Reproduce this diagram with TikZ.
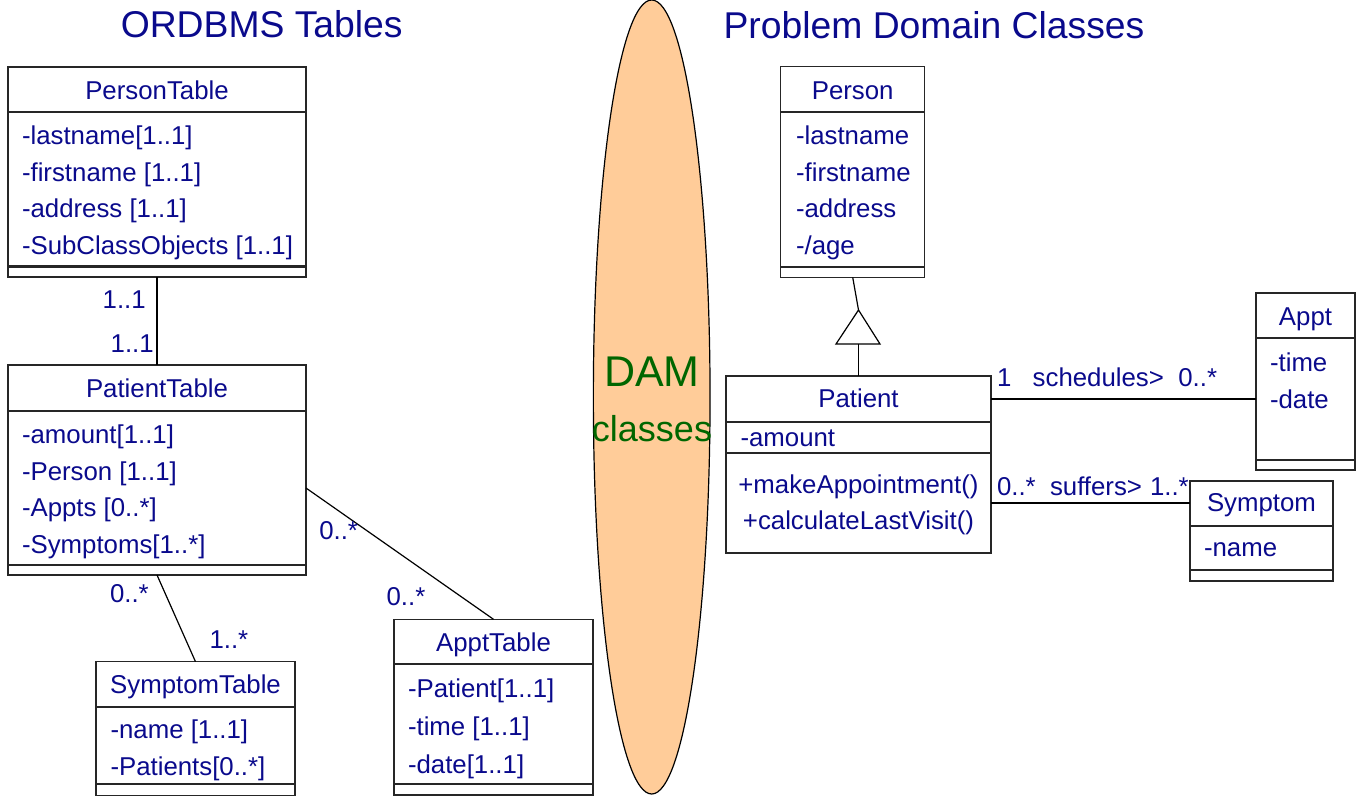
\documentclass[tikz,border=0pt]{standalone}
\usepackage{fontspec}
\setmainfont{Liberation Sans}
\usetikzlibrary{shapes.geometric,calc}
\definecolor{txtc}{RGB}{10,10,140}
\definecolor{damfill}{RGB}{255,204,153}
\definecolor{damtxt}{RGB}{0,102,0}
\begin{document}
\begin{tikzpicture}[x=1pt,y=-1pt,
 box/.style={draw=black!85,line width=1.3pt,inner sep=0,outer sep=0,anchor=north west},
 hsep/.style={draw=black!85,line width=2.2pt},
 tsep/.style={draw=black!85,line width=1.3pt},
 txt/.style={text=txtc,font=\fontsize{25.8}{30}\selectfont,inner sep=0,outer sep=0},
 attr/.style={txt,anchor=base west},
 head/.style={txt,anchor=base},
 lbl/.style={txt,anchor=base west},
 title/.style={text=txtc,font=\fontsize{37.3}{42}\selectfont,inner sep=0,anchor=base},
 conn/.style={draw=black,line width=1.2pt},
 ]
\useasboundingbox (0,0) rectangle (1365,796);

% titles
\node[title] (t1) at (261.7,37.3) {ORDBMS Tables};
\node[title] (t2) at (934,38) {Problem Domain Classes};

% DAM ellipse
\node[ellipse,draw=black,line width=1.2pt,fill=damfill,minimum width=116.7pt,minimum height=794pt,inner sep=0] (dam) at (651.7,397) {};
\node[text=damtxt,font=\fontsize{43}{48}\selectfont,inner sep=0,anchor=base] (damt) at (652,386) {DAM};
\node[text=damtxt,font=\fontsize{36}{42}\selectfont,inner sep=0,anchor=base] (damc) at (652,441) {classes};

% PersonTable
\node[box,minimum width=298pt,minimum height=210pt] (ptab) at (8,67) {};
\draw[hsep] (8,112) -- (306,112);
\draw[hsep] (8,266.5) -- (306,266.5);
\node[head] (ptabh) at (157,99) {PersonTable};
\node[attr] (ptab1) at (22,144.5) {-lastname[1..1]};
\node[attr] (ptab2) at (22,181) {-firstname [1..1]};
\node[attr] (ptab3) at (22,217.5) {-address [1..1]};
\node[attr] (ptab4) at (22,254) {-SubClassObjects [1..1]};

% PatientTable
\node[box,minimum width=298pt,minimum height=210pt] (patt) at (8,365) {};
\draw[hsep] (8,411) -- (306,411);
\draw[hsep] (8,565) -- (306,565);
\node[head] (patth) at (157,397) {PatientTable};
\node[attr] (patt1) at (22,443.5) {-amount[1..1]};
\node[attr] (patt2) at (22,480) {-Person [1..1]};
\node[attr] (patt3) at (22,516.5) {-Appts [0..*]};
\node[attr] (patt4) at (22,553) {-Symptoms[1..*]};

% SymptomTable
\node[box,minimum width=199pt,minimum height=133.5pt] (symt) at (96,661.7) {};
\draw[hsep] (96,707) -- (295,707);
\draw[hsep] (96,784) -- (295,784);
\node[head] (symth) at (195.5,693.5) {SymptomTable};
\node[attr] (symt1) at (110.5,738) {-name [1..1]};
\node[attr] (symt2) at (110.5,775) {-Patients[0..*]};

% ApptTable
\node[box,minimum width=199pt,minimum height=175.7pt] (appt) at (394,619.3) {};
\draw[hsep] (394,664) -- (593,664);
\draw[hsep] (394,784) -- (593,784);
\node[head] (appth) at (493.5,651) {ApptTable};
\node[attr] (appt1) at (408,697) {-Patient[1..1]};
\node[attr] (appt2) at (408,735) {-time [1..1]};
\node[attr] (appt3) at (408,773) {-date[1..1]};

% Person
\node[box,minimum width=144pt,minimum height=210.6pt] (person) at (780.7,66.7) {};
\draw[hsep] (780.7,112.3) -- (924.7,112.3);
\draw[hsep] (780.7,266.7) -- (924.7,266.7);
\node[head] (personh) at (852.7,99) {Person};
\node[attr] (person1) at (796,144.5) {-lastname};
\node[attr] (person2) at (796,181) {-firstname};
\node[attr] (person3) at (796,217.5) {-address};
\node[attr] (person4) at (796,254) {-/age};

% Patient
\node[box,minimum width=265pt,minimum height=177pt] (patient) at (726,376) {};
\draw[hsep] (726,422) -- (991,422);
\draw[tsep] (726,453) -- (991,453);
\node[head] (patienth) at (858.5,407.5) {Patient};
\node[attr] (patient1) at (740.5,446) {-amount};
\node[head] (patient2) at (858.5,493) {+makeAppointment()};
\node[head] (patient3) at (858.5,529) {+calculateLastVisit()};

% Appt
\node[box,minimum width=99pt,minimum height=177pt] (apptc) at (1256,293) {};
\draw[hsep] (1256,338) -- (1355,338);
\draw[hsep] (1256,460) -- (1355,460);
\node[head] (appch) at (1305.5,325) {Appt};
\node[attr] (appc1) at (1270,371.5) {-time};
\node[attr] (appc2) at (1270,408) {-date};

% Symptom
\node[box,minimum width=143pt,minimum height=100pt] (symp) at (1190,481) {};
\draw[hsep] (1190,526) -- (1333,526);
\draw[hsep] (1190,570) -- (1333,570);
\node[head] (symph) at (1261.5,511.5) {Symptom};
\node[attr] (symp1) at (1204,556.5) {-name};

% left connectors
\draw[conn] (ptab.south) -- (patt.north);
\draw[conn] ([yshift=-123pt]patt.north east) -- (appt.north);
\draw[conn] (patt.south) -- (symt.north);

% generalization
\coordinate (apex) at (858.5,310);
\coordinate (tbase) at (858.5,344);
\draw[conn] (person.south) -- (apex);
\draw[conn] (apex) -- (836,344) -- (880,344) -- cycle;
\draw[conn] (tbase) -- (patient.north);

% right associations
\draw[conn] ([yshift=-23pt]patient.north east) -- ([yshift=-23pt]patient.north east -| apptc.west);
\draw[conn] ([yshift=-127pt]patient.north east) -- ([yshift=-127pt]patient.north east -| symp.west);

% multiplicity labels
\node[lbl] (l1) at (102.7,308.3) {1..1};
\node[lbl] (l2) at (110.7,352.3) {1..1};
\node[lbl] (l3) at (319.3,539) {0..*};
\node[lbl] (l4) at (386.6,605) {0..*};
\node[lbl] (l5) at (110,602) {0..*};
\node[lbl] (l6) at (209.5,648) {1..*};
\node[lbl] (r1) at (997,386.5) {1};
\node[lbl] (r2) at (1032.7,386.5) {schedules>};
\node[lbl] (r3) at (1178.3,386.5) {0..*};
\node[lbl] (r4) at (997,495) {0..*};
\node[lbl] (r5) at (1050,495) {suffers>};
\node[lbl] (r6) at (1150,495) {1..*};
\end{tikzpicture}
\end{document}
